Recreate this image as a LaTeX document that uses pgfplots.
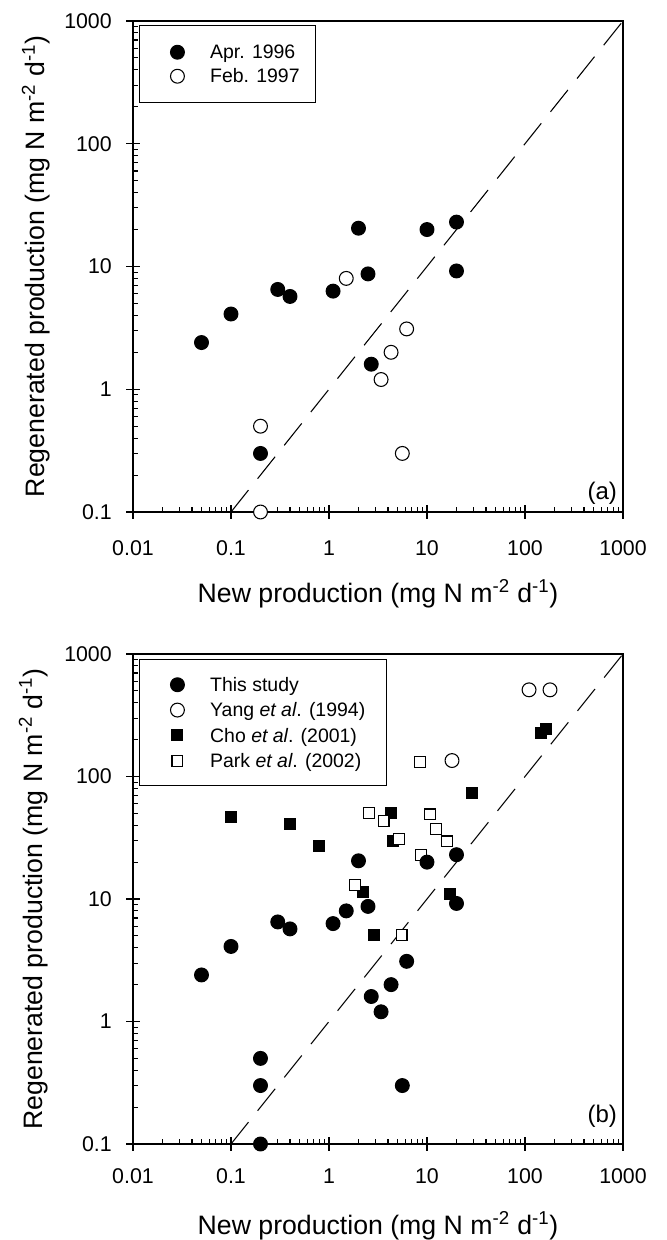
\documentclass[border=0pt]{standalone}
\usepackage{fontspec}
\setmainfont{Liberation Sans}
\usepackage{pgfplots}
\pgfplotsset{compat=1.18}

\tikzset{
  fcirc/.style={mark=*, mark size=5.2pt, mark options={draw=black, fill=black, line width=0.8pt, solid}},
  ocirc/.style={mark=*, mark size=5.2pt, mark options={draw=black, fill=white, line width=0.8pt, solid}},
  fsq/.style={mark=square*, mark size=4.1pt, mark options={draw=black, fill=black, line width=0.8pt, solid}},
  osq/.style={mark=square*, mark size=4.1pt, mark options={draw=black, fill=white, line width=0.8pt, solid}},
}
\newcommand{\lf}{\fontsize{14.6}{17}\selectfont}

\begin{document}
\begin{tikzpicture}
\useasboundingbox (0,0) rectangle (500.25pt,930pt);

% ---------------- panel (a) ----------------
\begin{axis}[
    xmode=log, ymode=log,
    scale only axis,
    width=367.5pt, height=368.25pt,
    at={(99.75pt,546pt)}, anchor=south west,
    clip=false,
    xmin=0.01, xmax=1000, ymin=0.1, ymax=1000,
    xtick={0.01,0.1,1,10,100,1000},
    xticklabels={0.01,0.1,1,10,100,1000},
    ytick={0.1,1,10,100,1000},
    yticklabels={0.1,1,10,100,1000},
    minor xtick={0.02,0.03,0.04,0.05,0.06,0.07,0.08,0.09,0.2,0.3,0.4,0.5,0.6,0.7,0.8,0.9,2,3,4,5,6,7,8,9,20,30,40,50,60,70,80,90,200,300,400,500,600,700,800,900},
    minor ytick={0.2,0.3,0.4,0.5,0.6,0.7,0.8,0.9,2,3,4,5,6,7,8,9,20,30,40,50,60,70,80,90,200,300,400,500,600,700,800,900},
    extra x ticks={0.01,0.1,1,10,100,1000},
    extra y ticks={0.1,1,10,100,1000},
    extra x tick labels={}, extra y tick labels={},
    extra tick style={tick align=outside, major tick length=5pt},
    xtick pos=left, ytick pos=left,
    tick align=inside,
    major tick length=5pt, minor tick length=3.5pt,
    tick style={line width=0.8pt, black},
    axis line style={line width=1.1pt},
    xticklabel style={font=\fontsize{16}{18}\selectfont, inner sep=0pt, anchor=base, yshift=-33pt},
    yticklabel style={font=\fontsize{16}{18}\selectfont, inner sep=0pt, anchor=east, xshift=-15.75pt},
    xlabel={New production (mg N m\textsuperscript{-2} d\textsuperscript{-1})},
    ylabel={Regenerated production (mg N m\textsuperscript{-2} d\textsuperscript{-1})},
    xlabel style={font=\fontsize{20}{22}\selectfont, at={(axis description cs:0.5,-0.185)}, anchor=base},
    ylabel style={font=\fontsize{20}{22}\selectfont, at={(axis description cs:-0.1796,0.5)}, anchor=base},
    legend cell align=left,
    legend style={draw=black, line width=1.1pt, fill=white, anchor=north west,
      font=\lf,
      at={(axis description cs:0.0122,0.9919)}, inner xsep=12pt, inner ysep=10.9pt,
      nodes={inner sep=0pt, text height=14pt, text depth=4pt}},
  ]
\addlegendimage{legend image code/.code={\path (-15.75pt,0pt) (24pt,0pt); \draw[fcirc] plot coordinates {(0pt,0pt)};}}
\addlegendentry{\lf Apr. 1996}
\addlegendimage{legend image code/.code={\path (-15.75pt,0pt) (24pt,0pt); \draw[ocirc] plot coordinates {(0pt,0pt)};}}
\addlegendentry{\lf Feb. 1997}
\addplot[forget plot, black, line width=0.8pt, dash pattern=on 21pt off 11pt] coordinates {(0.1,0.1) (1000,1000)};
\addplot[forget plot, only marks, fcirc] coordinates {
(0.05,2.4) (0.1,4.1) (0.2,0.3) (0.3,6.5) (0.4,5.7) (1.1,6.3) (2,20.5) (2.5,8.7) (2.7,1.6) (10,20) (20,23) (20,9.2)};
\addplot[forget plot, only marks, ocirc] coordinates {
(0.2,0.5) (0.2,0.1) (1.5,8) (3.4,1.2) (4.3,2.0) (5.6,0.3) (6.2,3.1)};
\node[anchor=base east, inner sep=0pt, font=\fontsize{18}{20}\selectfont] at (rel axis cs:0.988,0.0245) {(a)};
\end{axis}

% ---------------- panel (b) ----------------
\begin{axis}[
    xmode=log, ymode=log,
    scale only axis,
    width=367.5pt, height=367.5pt,
    at={(99.75pt,72pt)}, anchor=south west,
    clip=false,
    xmin=0.01, xmax=1000, ymin=0.1, ymax=1000,
    xtick={0.01,0.1,1,10,100,1000},
    xticklabels={0.01,0.1,1,10,100,1000},
    ytick={0.1,1,10,100,1000},
    yticklabels={0.1,1,10,100,1000},
    minor xtick={0.02,0.03,0.04,0.05,0.06,0.07,0.08,0.09,0.2,0.3,0.4,0.5,0.6,0.7,0.8,0.9,2,3,4,5,6,7,8,9,20,30,40,50,60,70,80,90,200,300,400,500,600,700,800,900},
    minor ytick={0.2,0.3,0.4,0.5,0.6,0.7,0.8,0.9,2,3,4,5,6,7,8,9,20,30,40,50,60,70,80,90,200,300,400,500,600,700,800,900},
    extra x ticks={0.01,0.1,1,10,100,1000},
    extra y ticks={0.1,1,10,100,1000},
    extra x tick labels={}, extra y tick labels={},
    extra tick style={tick align=outside, major tick length=5pt},
    xtick pos=left, ytick pos=left,
    tick align=inside,
    major tick length=5pt, minor tick length=3.5pt,
    tick style={line width=0.8pt, black},
    axis line style={line width=1.1pt},
    xticklabel style={font=\fontsize{16}{18}\selectfont, inner sep=0pt, anchor=base, yshift=-29.25pt},
    yticklabel style={font=\fontsize{16}{18}\selectfont, inner sep=0pt, anchor=east, xshift=-15.75pt},
    xlabel={New production (mg N m\textsuperscript{-2} d\textsuperscript{-1})},
    ylabel={Regenerated production (mg N m\textsuperscript{-2} d\textsuperscript{-1})},
    xlabel style={font=\fontsize{20}{22}\selectfont, at={(axis description cs:0.5,-0.1857)}, anchor=base},
    ylabel style={font=\fontsize{20}{22}\selectfont, at={(axis description cs:-0.1857,0.5)}, anchor=base},
    legend cell align=left,
    legend style={draw=black, line width=1.1pt, fill=white, anchor=north west,
      font=\lf,
      at={(axis description cs:0.0122,0.9898)}, inner xsep=16pt, inner ysep=9.25pt,
      nodes={inner sep=0pt, text height=14.5pt, text depth=4.5pt}},
  ]
\addlegendimage{legend image code/.code={\path (-11.75pt,0pt) (24pt,0pt); \draw[fcirc] plot coordinates {(0pt,0pt)};}}
\addlegendentry{\lf This study}
\addlegendimage{legend image code/.code={\path (-11.75pt,0pt) (24pt,0pt); \draw[ocirc] plot coordinates {(0pt,0pt)};}}
\addlegendentry{\lf Yang \textit{et al}. (1994)}
\addlegendimage{legend image code/.code={\path (-11.75pt,0pt) (24pt,0pt); \draw[fsq] plot coordinates {(0pt,0pt)};}}
\addlegendentry{\lf Cho \textit{et al}. (2001)}
\addlegendimage{legend image code/.code={\path (-11.75pt,0pt) (24pt,0pt); \draw[osq] plot coordinates {(0pt,0pt)};}}
\addlegendentry{\lf Park \textit{et al}. (2002)}
\addplot[forget plot, black, line width=0.8pt, dash pattern=on 21pt off 11pt] coordinates {(0.1,0.1) (1000,1000)};
% Cho et al. (2001)
\addplot[forget plot, only marks, fsq] coordinates {
(0.1,47) (0.4,41) (0.8,27) (2.2,11.5) (2.9,5.1) (4.3,50) (4.5,30) (17,11) (29,73) (145,225) (165,245)};
% Park et al. (2002)
\addplot[forget plot, only marks, osq] coordinates {
(1.85,13) (2.55,50) (3.6,43) (5.2,31) (5.5,5.1) (8.5,132) (8.6,23) (10.7,49) (12.4,37) (15.9,29.5)};
% This study
\addplot[forget plot, only marks, fcirc] coordinates {
(0.05,2.4) (0.1,4.1) (0.2,0.3) (0.3,6.5) (0.4,5.7) (1.1,6.3) (2,20.5) (2.5,8.7) (2.7,1.6) (10,20) (20,23) (20,9.2)
(0.2,0.5) (0.2,0.1) (1.5,8) (3.4,1.2) (4.3,2.0) (5.6,0.3) (6.2,3.1)};
% Yang et al. (1994)
\addplot[forget plot, only marks, ocirc] coordinates {
(110,510) (180,510) (18,135)};
\node[anchor=base east, inner sep=0pt, font=\fontsize{18}{20}\selectfont] at (rel axis cs:0.988,0.043) {(b)};
\end{axis}
\end{tikzpicture}
\end{document}
